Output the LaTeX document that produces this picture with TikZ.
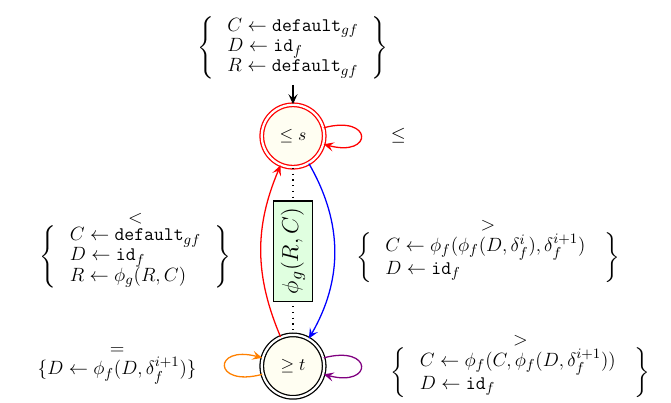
\documentclass[tikz,border=0pt]{standalone}
\usepackage{amsmath}
\usepackage{amssymb}
\usepackage{xcolor}
\usetikzlibrary{arrows.meta,positioning}
\tikzset{
  >={Stealth[length=2.2mm, width=2mm, inset=0.9mm]},
  st/.style={circle, draw, double, double distance=1.4pt, fill=yellow!5, minimum size=39pt, inner sep=0pt, font=\fontsize{11}{13}\selectfont},
  act/.style={draw, solid, fill=green!12, font=\fontsize{15}{18}\selectfont, inner sep=4.5pt},
  lbl/.style={align=center, text=black, font=\fontsize{13}{12.5}\selectfont},
}
\newcommand{\dflt}{\mathtt{default}_{gf}}
\newcommand{\idf}{\mathtt{id}_f}

\begin{document}
\begin{tikzpicture}[thick]
  \useasboundingbox (-183.1pt,-166.25pt) rectangle (236.25pt,85pt);
  \node[st, draw=red] (s) {$\leq s$};
  \node[st, below=104pt of s] (t) {$\geq t$};
  \node[lbl, above=12pt of s] (init) {$\left\{\;\begin{array}{l} C\leftarrow\dflt\\ D\leftarrow\idf\\ R\leftarrow\dflt\end{array}\;\right\}$};
  \draw[->] (init) -- (s);
  % dotted link with the action box
  \draw[dash pattern=on 0.8pt off 2.8pt] (s) -- node[act, rotate=90] (phi) {$\phi_g(R,C)$} (t);
  \draw[->, red] (s) to[loop right] node[lbl, right=15pt] (lss) {$\leq$} (s);
  \draw[->, red] (t) to[bend left=23] node[lbl, left=15pt] (lts) {$<$\\ $\left\{\;\begin{array}{l} C\leftarrow\dflt\\ D\leftarrow\idf\\ R\leftarrow\phi_g(R,C)\end{array}\;\right\}$} (s);
  \draw[->, blue] (s) to[bend left=30] node[lbl, right=10pt] (lst) {$>$\\ $\left\{\;\begin{array}{l} C\leftarrow\phi_f(\phi_f(D,\delta_f^i),\delta_f^{i+1})\\ D\leftarrow\idf\end{array}\;\;\right\}$} (t);
  \draw[->, orange] (t) to[loop left] node[lbl, left=14pt] (ltl) {$=$\\ $\{D\leftarrow\phi_f(D,\delta_f^{i+1})\}$} (t);
  \draw[->, violet] (t) to[loop right] node[lbl, right=15pt] (ltr) {$>$\\ $\left\{\;\begin{array}{l} C\leftarrow\phi_f(C,\phi_f(D,\delta_f^{i+1}))\\ D\leftarrow\idf\end{array}\;\;\right\}$} (t);
\end{tikzpicture}
\end{document}
